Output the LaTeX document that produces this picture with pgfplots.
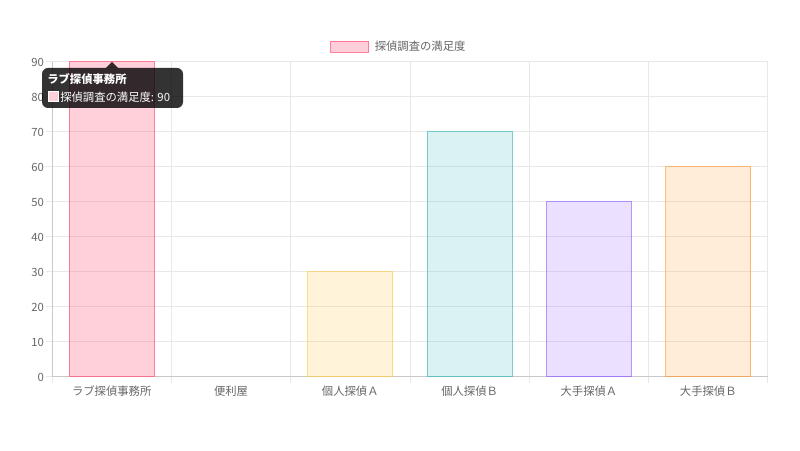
\documentclass[border=0pt]{standalone}
\usepackage{fontspec}
\setmainfont{Noto Sans CJK JP}
\usepackage{pgfplots}
\pgfplotsset{compat=1.18}
\definecolor{cpink}{RGB}{255,99,132}
\definecolor{cyellow}{RGB}{255,205,86}
\definecolor{cteal}{RGB}{75,192,192}
\definecolor{cpurple}{RGB}{153,102,255}
\definecolor{corange}{RGB}{255,159,64}
\definecolor{txtgray}{RGB}{102,102,102}
\definecolor{gridgray}{RGB}{232,232,232}
\definecolor{axgray}{RGB}{200,200,200}
\begin{document}
\begin{tikzpicture}[x=0.75pt,y=0.75pt]
\useasboundingbox (0,0) rectangle (800,450);
\begin{axis}[
    at={(39pt,54.75pt)}, anchor=south west,
    scale only axis, width=537pt, height=236.25pt,
    xmin=-0.5, xmax=5.5, ymin=0, ymax=90,
    ytick={0,10,...,90},
    xtick={-0.5,0.5,...,5.5},
    xticklabels={,,,,,,},
    extra x ticks={0,1,2,3,4,5},
    extra x tick labels={ラブ探偵事務所,便利屋,個人探偵Ａ,個人探偵Ｂ,大手探偵Ａ,大手探偵Ｂ},
    extra x tick style={grid=none, major tick length=0pt,
        xticklabel style={yshift=-3pt}},
    grid=major,
    grid style={draw=gridgray, line width=0.75pt},
    axis x line*=bottom, axis y line*=left,
    axis line style={draw=axgray, line width=0.75pt, -},
    tick align=outside,
    major tick length=4.5pt,
    tick style={draw=gridgray, line width=0.75pt},
    tick label style={font=\fontsize{8.5}{10}\selectfont, text=txtgray},
    yticklabel style={xshift=2pt},
    /pgf/number format/assume math mode=true,
    legend style={at={(0.5,1)}, anchor=south, yshift=3pt, xshift=-8pt, draw=none,
        font=\fontsize{8.5}{10}\selectfont, text=txtgray},
    legend image code/.code={\draw[#1] (0pt,-4.1pt) rectangle (28.5pt,4.1pt);},
]
\addplot[ybar, bar shift=0pt, bar width=0.71, fill=cpink, fill opacity=0.3, draw=cpink, draw opacity=0.8, line width=0.75pt]
    coordinates {(0,90)};
\addlegendentry{\hspace{2pt}探偵調査の満足度}
\addplot[ybar, bar shift=0pt, bar width=0.71, draw=none, fill=none, forget plot]
    coordinates {(1,0)};
\addplot[ybar, bar shift=0pt, bar width=0.71, fill=cyellow, fill opacity=0.22, draw=cyellow, draw opacity=0.7, line width=0.75pt, forget plot]
    coordinates {(2,30)};
\addplot[ybar, bar shift=0pt, bar width=0.71, fill=cteal, fill opacity=0.2, draw=cteal, draw opacity=0.75, line width=0.75pt, forget plot]
    coordinates {(3,70)};
\addplot[ybar, bar shift=0pt, bar width=0.71, fill=cpurple, fill opacity=0.2, draw=cpurple, draw opacity=0.7, line width=0.75pt, forget plot]
    coordinates {(4,50)};
\addplot[ybar, bar shift=0pt, bar width=0.71, fill=corange, fill opacity=0.2, draw=corange, draw opacity=0.7, line width=0.75pt, forget plot]
    coordinates {(5,60)};
\end{axis}
% tooltip
\fill[black, fill opacity=0.8, rounded corners=4.5pt] (42,342) rectangle (183,382);
\fill[black, fill opacity=0.8] (106,382) -- (112,388) -- (118,382) -- cycle;
\node[anchor=west, inner sep=0pt, text=white, font=\bfseries\fontsize{8.5}{10}\selectfont] at (47,371) {ラブ探偵事務所};
\filldraw[fill=cpink!30, draw=white, line width=0.75pt] (48,348) rectangle (58,358);
\node[anchor=west, inner sep=0pt, text=white, font=\fontsize{8.5}{10}\selectfont] at (60,353) {探偵調査の満足度: 90};
\end{tikzpicture}
\end{document}
